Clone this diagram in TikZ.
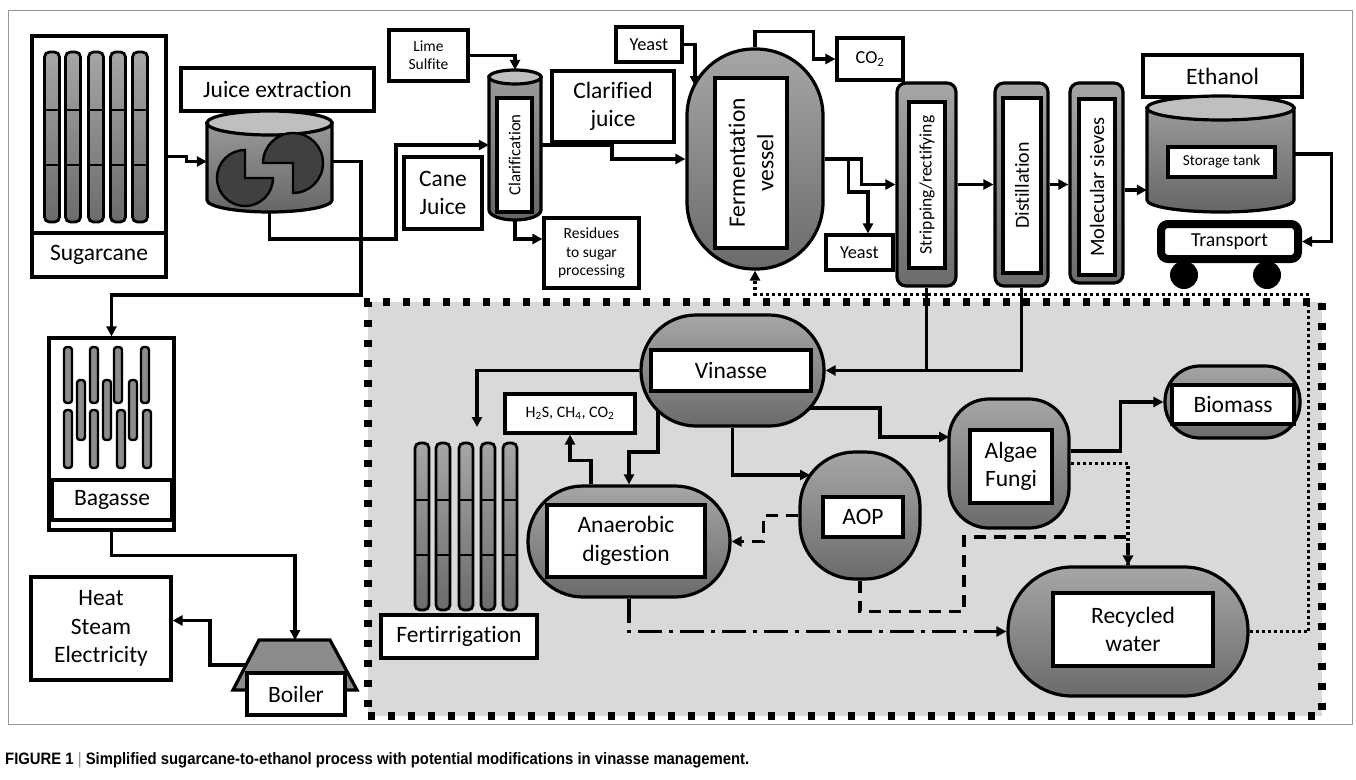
\documentclass[tikz,border=0pt]{standalone}
\usepackage{fontspec}
\setmainfont{Carlito}[Ligatures=NoCommon]
\newfontfamily\capfont[FakeStretch=0.9]{Liberation Sans}
\usetikzlibrary{arrows.meta}
\pgfdeclarelayer{back}
\pgfdeclarelayer{lines}
\pgfsetlayers{back,lines,main}
\newcommand\fmain{\fontsize{23.5}{28.5}\selectfont}
\newcommand\fsmall{\fontsize{15.5}{18.3}\selectfont}
\begin{document}
\begin{tikzpicture}[x=1pt, y=-1pt,
    box/.style={draw, line width=3.2pt, fill=white, inner sep=0pt, align=center, font=\fmain},
    vessel/.style={draw, line width=3.2pt, top color=black!35, bottom color=black!58, inner sep=0pt, rounded corners=#1},
    hull/.style={inner sep=0pt},
    tankbody/.style={draw, line width=3.2pt, top color=black!40, bottom color=black!60},
    tanktop/.style={draw, line width=3.2pt, fill=black!25},
    stalk/.style={draw, line width=2.8pt, rounded corners=5, top color=black!35, bottom color=black!58},
    chip/.style={draw, line width=2.4pt, rounded corners=3, fill=black!45},
    flow/.style={line width=3.2pt, -{Triangle[length=10pt,width=10pt]}},
    pipe/.style={line width=3.2pt},
    backflow/.style={flow, dash pattern=on 3pt off 3pt},
    aopline/.style={line width=3.2pt, dash pattern=on 12pt off 8pt},
    digline/.style={flow, dash pattern=on 24pt off 7pt on 4pt off 7pt},
    zone/.style={fill=black!15, draw, line width=8pt, dash pattern=on 7pt off 13pt, inner sep=0pt}
  ]
  \useasboundingbox (0,0) rectangle (1356,779);

  % frame and vinasse zone
  \begin{pgfonlayer}{back}
    \fill[white] (0,0) rectangle (1356,779);
    \draw[black!40, line width=1pt] (8,10) rectangle (1352,724);
    \node[zone, minimum width=954, minimum height=414] (zone) at (845,509) {};
  \end{pgfonlayer}

  % sugarcane
  \node[box, minimum width=134, minimum height=241] (cane) at (99,156.5) {};
  \node[box, minimum width=134, minimum height=44] (canelbl) at (99,255) {Sugarcane};
  \foreach \x in {52,73,96,118,140} {
    \draw[stalk] (\x-7.5,52) rectangle (\x+7.5,222);
    \draw[line width=2.4pt] (\x-7.5,110) -- (\x+7.5,110) (\x-7.5,165) -- (\x+7.5,165);
  }

  % juice extraction
  \node[box, minimum width=193, minimum height=43] (juicelbl) at (277.5,89.5) {Juice extraction};
  \node[hull, minimum width=125, minimum height=101] (juice) at (269.5,161.5) {};
  \draw[tankbody] (207,123) -- (207,200) arc[start angle=180, end angle=0, x radius=62.5, y radius=12] -- (332,123) -- cycle;
  \draw[tanktop] (269.5,123) ellipse[x radius=62.5, y radius=12];
  \draw[line width=2.4pt, fill=black!75] (245,178) -- ++(0,-28) arc[start angle=-90, end angle=-360, radius=28] -- cycle;
  \draw[line width=2.4pt, fill=black!75] (293,163) -- ++(-30,0) arc[start angle=180, end angle=450, radius=30] -- cycle;

  % clarification
  \node[box, font=\fsmall, minimum width=79, minimum height=51] (lime) at (428.5,55.5) {Lime\\Sulfite};
  \node[hull, minimum width=52, minimum height=150] (clar) at (515,145) {};
  \draw[tankbody] (489,77) -- (489,210) arc[start angle=180, end angle=0, x radius=26, y radius=10] -- (541,77) -- cycle;
  \draw[tanktop] (515,77) ellipse[x radius=26, y radius=7];
  \node[box, rotate=90, font=\fontsize{16.8}{20}\selectfont, minimum width=114, minimum height=35] (clarlbl) at (514.5,155) {Clarification};
  \node[box, minimum width=78, minimum height=72] (canejuice) at (443,193) {Cane\\Juice};
  \node[box, minimum width=122, minimum height=71] (clarjuice) at (613,106.5) {Clarified\\juice};
  \node[box, font=\fsmall, minimum width=95, minimum height=70] (resid) at (591.5,253) {Residues\\to sugar\\processing};

  % fermentation
  \node[box, font=\fontsize{18.3}{22}\selectfont, minimum width=66, minimum height=35] (yeastin) at (649,44.5) {Yeast};
  \node[vessel=67, minimum width=136, minimum height=220] (ferm) at (755,159) {};
  \node[box, rotate=90, minimum width=170, minimum height=72] (fermlbl) at (751,163) {Fermentation\\vessel};
  \node[box, font=\fontsize{18.3}{22}\selectfont, minimum width=66, minimum height=42] (co2) at (870,59) {CO\textsubscript{2}};
  \node[box, font=\fontsize{18.3}{22}\selectfont, minimum width=67, minimum height=35] (yeastout) at (859.5,252.5) {Yeast};
  \coordinate (fermtop) at (695,86);

  % columns
  \node[vessel=9, minimum width=59, minimum height=203] (strip) at (926.5,184.5) {};
  \node[box, rotate=90, font=\fontsize{17.6}{20}\selectfont, minimum width=166, minimum height=36] (striplbl) at (927,185) {Stripping/rectifying};
  \node[vessel=9, minimum width=53, minimum height=203] (dist) at (1021.5,184.5) {};
  \node[box, rotate=90, font=\fontsize{20}{24}\selectfont, minimum width=175, minimum height=38] (distlbl) at (1022,185.5) {Distillation};
  \node[vessel=9, minimum width=53, minimum height=200] (sieves) at (1096.5,183) {};
  \node[box, rotate=90, font=\fontsize{20.5}{24}\selectfont, minimum width=176, minimum height=36] (sieveslbl) at (1097,187) {Molecular sieves};

  % ethanol storage and transport
  \node[box, minimum width=159, minimum height=42] (ethanol) at (1222.5,76) {Ethanol};
  \node[hull, minimum width=147, minimum height=116] (tank) at (1220.5,154) {};
  \draw[tankbody] (1147,108) -- (1147,200) arc[start angle=180, end angle=0, x radius=73.5, y radius=12] -- (1294,108) -- cycle;
  \draw[tanktop] (1220.5,108) ellipse[x radius=73.5, y radius=12];
  \node[box, font=\fontsize{15.2}{18}\selectfont, minimum width=107, minimum height=30] (tanklbl) at (1221.5,162) {Storage tank};
  \fill (1184,275) circle[radius=14] (1267,275) circle[radius=14];
  \node[draw, line width=8pt, rounded corners=7, fill=white, inner sep=0pt, font=\fontsize{19.8}{24}\selectfont, minimum width=137, minimum height=35] (transport) at (1229.5,241.5) {Transport};

  % vinasse management
  \node[vessel=55, minimum width=183, minimum height=111] (vinasse) at (732.5,370.5) {};
  \node[box, minimum width=160, minimum height=41] (vinlbl) at (731,370.5) {Vinasse};
  \node[box, font=\fontsize{16}{19}\selectfont, minimum width=130, minimum height=39] (gas) at (570,413.5) {H\textsubscript{2}S, CH\textsubscript{4}, CO\textsubscript{2}};
  \foreach \x in {422,443,466,488,510} {
    \draw[stalk] (\x-7,443) rectangle (\x+7,610);
    \draw[line width=2.4pt] (\x-7,500) -- (\x+7,500) (\x-7,555) -- (\x+7,555);
  }
  \node[box, minimum width=156, minimum height=43] (fert) at (459,636.5) {Fertirrigation};
  \node[vessel=55, minimum width=202, minimum height=111] (anaer) at (629,541.5) {};
  \node[box, minimum width=158, minimum height=72] (anaerlbl) at (626,541) {Anaerobic\\digestion};
  \node[vessel=55, minimum width=120, minimum height=127] (aop) at (860,515.5) {};
  \node[box, minimum width=80, minimum height=40] (aoplbl) at (863,517) {AOP};
  \node[vessel=40, minimum width=120, minimum height=129] (algae) at (1009,463.5) {};
  \node[box, minimum width=82, minimum height=73] (algaelbl) at (1011,466.5) {Algae\\Fungi};
  \node[vessel=35, minimum width=135, minimum height=72] (biomass) at (1232.5,402) {};
  \node[box, minimum width=122, minimum height=39] (biomasslbl) at (1233,404.5) {Biomass};
  \node[vessel=64, minimum width=240, minimum height=129] (recyc) at (1128,631.5) {};
  \node[box, minimum width=160, minimum height=73] (recyclbl) at (1133,629.5) {Recycled\\water};
  \coordinate (fertin) at (477,427);
  \coordinate (vinL) at (658,405);
  \coordinate (vinR) at (800,408);
  \coordinate (aopin) at (810,475);
  \coordinate (algaein) at (949,437);

  % bagasse and boiler
  \node[box, minimum width=125, minimum height=192] (bagasse) at (111.5,434) {};
  \node[box, minimum width=120, minimum height=40] (baglbl) at (112,500) {Bagasse};
  \foreach \x in {68,94,118,145} \draw[chip] (\x-4,347) rectangle (\x+4,403);
  \foreach \x in {81,107,133} \draw[chip] (\x-4,380) rectangle (\x+4,440);
  \foreach \x in {68,94,121,147} \draw[chip] (\x-4,410) rectangle (\x+4,468);
  \node[box, minimum width=140, minimum height=103] (heat) at (101,628.5) {Heat\\Steam\\Electricity};
  \draw[line width=3.2pt, fill=black!45] (259,640) -- (330,640) -- (357,690) -- (233,690) -- cycle;
  \node[box, minimum width=98, minimum height=42] (boiler) at (296,694) {Boiler};
  \coordinate (boilertop) at (295,640);
  \coordinate (boilerleft) at (249,665);

  % caption
  \node[anchor=base west, inner sep=0pt] (caption) at (5,764)
    {\capfont\fontsize{16.5}{20}\selectfont\bfseries FIGURE 1 {\mdseries\color{black!45}|} Simplified sugarcane-to-ethanol process with potential modifications in vinasse management.};

  % connectors
  \begin{pgfonlayer}{lines}
    \draw[flow] (cane.east) -- ++(19,0) |- (juice.west);
    \draw[flow] (juice.east) -| (361,295) -| (bagasse.north);
    \draw[flow] (juice.south) |- (396,239) |- (clar.west);
    \draw[flow] (lime.east) -| (clar.north);
    \draw[flow] (clar.east) -- (612,145) |- (ferm.west);
    \draw[flow] (clar.south) |- ([yshift=14pt]resid.west);
    \draw[flow] (yeastin.east) -| (fermtop);
    \draw[flow] (ferm.north) -- ++(0,-16) -| ([xshift=-22pt]co2.west) -- (co2.west);
    \draw[flow] (ferm.east) -- ++(37,0) |- (strip.west);
    \draw[flow] ([xshift=24pt]ferm.east) -- ++(0,33) -| ([xshift=8.5pt]yeastout.north);
    \draw[flow] (strip.east) -- (dist.west);
    \draw[flow] (dist.east) -- (dist.east -| sieves.west);
    \draw[flow] ([yshift=-7pt]sieves.east) -- ([yshift=-7pt]sieves.east -| tank.west);
    \draw[flow] (tank.east) -- ++(37,0) |- (transport.east);
    \draw[pipe] (strip.south) -- (strip.south |- vinasse.east);
    \draw[flow] (dist.south) |- (vinasse.east);
    \draw[flow] (vinasse.west) -| (fertin);
    \draw[flow] (vinL) -- ++(0,47) -| (anaer.north);
    \draw[flow] ([xshift=-38pt]anaer.north) -- ++(0,-24) -| (gas.south);
    \draw[flow] (vinasse.south) |- (aopin);
    \draw[flow] (vinR) -- ++(80,0) |- (algaein);
    \draw[flow] ([yshift=12.5pt]algae.east) -- ++(50,0) |- (biomass.west);
    \draw[aopline] (aop.south) -- ++(0,31) -| (964,537) -| (recyc.north);
    \draw[backflow] (algae.east) -| (recyc.north);
    \draw[aopline, -{Triangle[length=10pt,width=10pt]}] (aop.west) -- ++(-35,0) |- (anaer.east);
    \draw[digline] (anaer.south) |- (recyc.west);
    \draw[backflow] (recyc.east) -- ++(59,0) |- ([yshift=-24pt]ferm.south) -- (ferm.south);
    \draw[flow] (bagasse.south) -- ++(0,24) -| (boilertop);
    \draw[flow] (boilerleft) -- ++(-39,0) |- ([yshift=8pt]heat.east);
  \end{pgfonlayer}
\end{tikzpicture}
\end{document}
